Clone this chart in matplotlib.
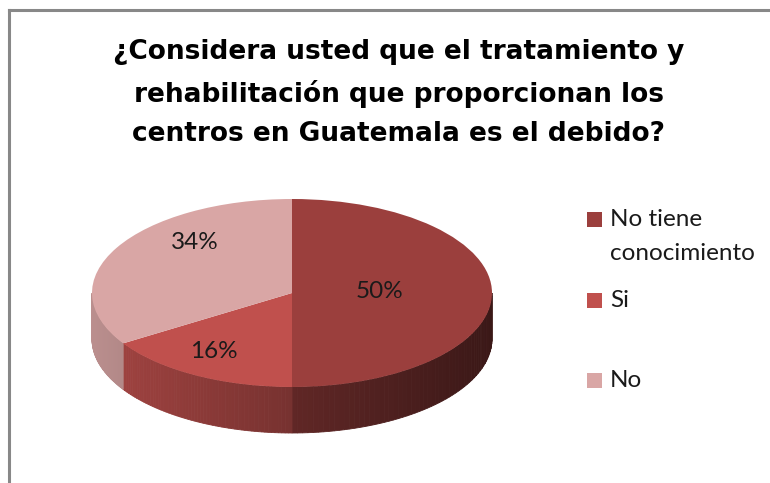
import matplotlib.pyplot as plt
import numpy as np
from matplotlib.transforms import Affine2D
from matplotlib.lines import Line2D
from matplotlib.patches import Rectangle
from matplotlib.colors import to_rgb

# data
categories = ["No tiene\nconocimiento", "Si", "No"]
values = [50, 16, 34]
pct_labels = ["50%", "16%", "34%"]
title = "¿Considera usted que el tratamiento y\nrehabilitación que proporcionan los\ncentros en Guatemala es el debido?"

# style
top_colors = ["#9B3F3D", "#C0504D", "#D9A6A5"]
squash = 0.47      # ellipse height / width of the top face
depth = 0.23       # thickness of the pie
pct_pos = [(0.44, 0.01), (-0.39, -0.29), (-0.485, 0.255)]  # label spots on top face
legend_y = [219, 300, 380]  # pixel rows of legend squares (from top)

W, H = 770, 483
fig = plt.figure(figsize=(W / 100, H / 100), dpi=100)
fig.patch.set_facecolor("white")

# axes with 1 unit = 200 px, pie centre at pixel (292, 293)
cx, cy, R = 292, 293, 200
ax = fig.add_axes([0, 0, 1, 1])

# top face via pie, squashed into an ellipse
wedges, _ = ax.pie(values, colors=top_colors, startangle=90, counterclock=False,
                   radius=1, wedgeprops=dict(linewidth=0))
flat = Affine2D().scale(1, squash)
for w in wedges:
    w.set_transform(flat + ax.transData)
    w.set_zorder(3)

ax.set_aspect("equal")
ax.set_xlim(-cx / R, (W - cx) / R)
ax.set_ylim(-(H - cy) / R, cy / R)
ax.axis("off")

# side walls (front half only), shaded strip by strip
cum = np.concatenate([[0], np.cumsum(values)]) / sum(values)
for i in range(len(values)):
    a = 90 - 360 * cum[i + 1]
    b = 90 - 360 * cum[i]
    lo, hi = max(a, -180), min(b, 0)
    if hi <= lo:
        continue
    base = np.array(to_rgb(top_colors[i]))
    ts = np.linspace(lo, hi, 60)
    for t0, t1 in zip(ts[:-1], ts[1:]):
        tt = np.radians(np.linspace(t0, t1, 4))
        xs = np.cos(tt)
        ys = squash * np.sin(tt)
        px = np.concatenate([xs, xs[::-1]])
        py = np.concatenate([ys, ys[::-1] - depth])
        f = 0.62 - 0.24 * np.cos(np.radians((t0 + t1) / 2))
        c = np.clip(base * f, 0, 1)
        ax.fill(px, py, color=c, lw=0.6, zorder=2)

# percentage labels
for (lx, ly), txt in zip(pct_pos, pct_labels):
    ax.text(lx, ly, txt, ha="center", va="center", fontsize=17.5,
            family="Lato", color="#1a1a1a", zorder=5)

# title
fig.text(399 / W, 1 - 93 / H, title, ha="center", va="center", fontsize=19,
         fontweight="bold", family="DejaVu Sans", color="black",
         linespacing=1.65)

# legend drawn by hand to keep Excel's spacing
for name, col, y in zip(categories, top_colors, legend_y):
    fig.patches.append(Rectangle((587 / W, 1 - (y + 8) / H), 15 / W, 15 / H,
                                 transform=fig.transFigure, facecolor=col,
                                 edgecolor="none"))
    fig.text(610 / W, 1 - (y - 10) / H, name, ha="left", va="top", fontsize=17.5,
             family="Lato", color="#1a1a1a", linespacing=1.75)

# chart frame (left and top edges visible)
fig.add_artist(Line2D([9 / W, 9 / W], [0, 1 - 10 / H], transform=fig.transFigure,
                      color="#888888", lw=2.2))
fig.add_artist(Line2D([9 / W, 1], [1 - 10 / H, 1 - 10 / H], transform=fig.transFigure,
                      color="#888888", lw=2.2))

fig.savefig("out.png", dpi=100)
